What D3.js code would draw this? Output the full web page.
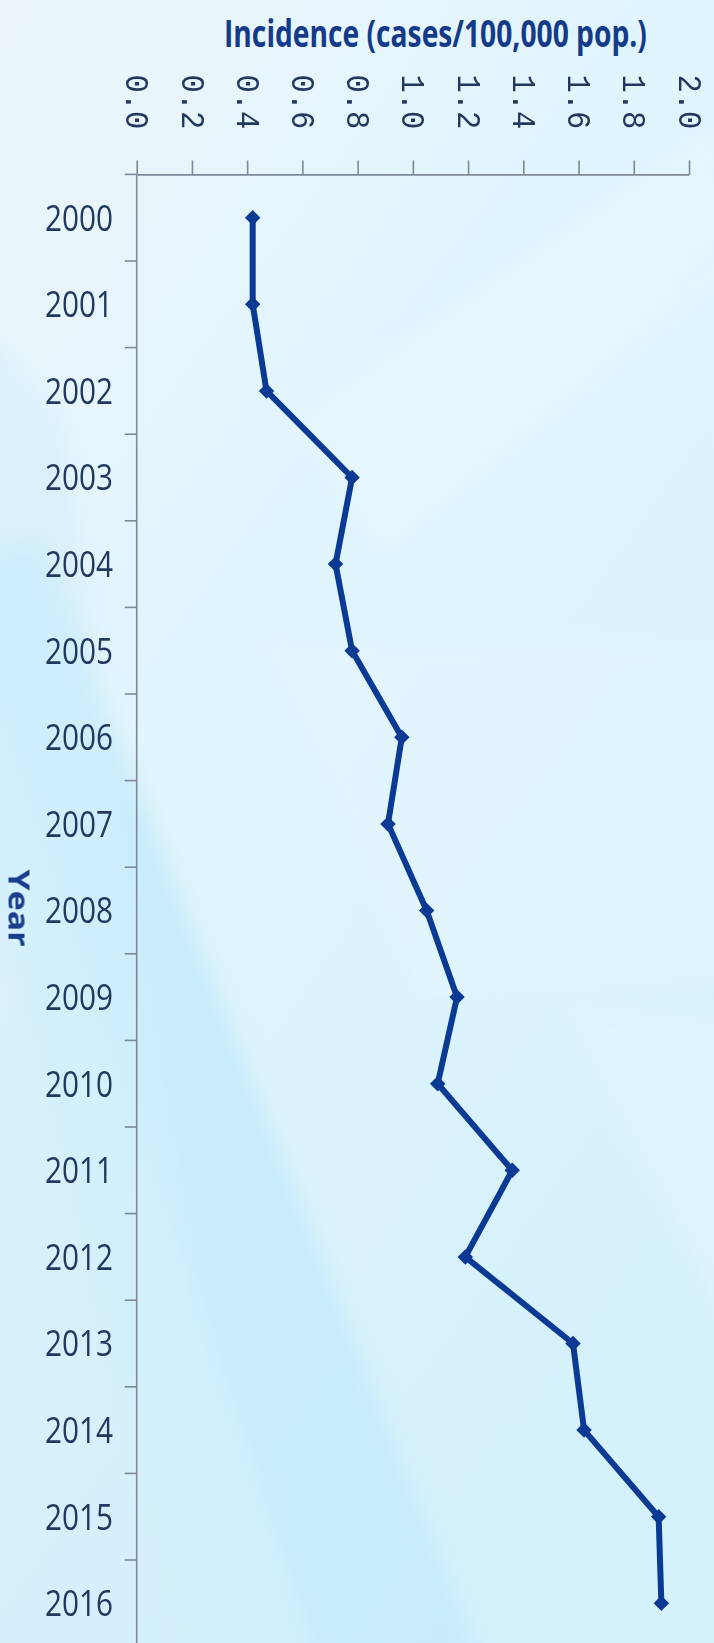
<!DOCTYPE html>
<html>
<head>
<meta charset="utf-8">
<script src="https://cdn.jsdelivr.net/npm/d3@7/dist/d3.min.js"></script>
<style>
  html, body { margin: 0; padding: 0; background: #dcf3fc; }
  svg { display: block; }
</style>
</head>
<body>
<svg id="chart" width="714" height="1643"></svg>
<script>
// Yearly incidence, cases per 100,000 population
const years = ["2000","2001","2002","2003","2004","2005","2006","2007","2008",
               "2009","2010","2011","2012","2013","2014","2015","2016"];
const incidence = [0.42, 0.42, 0.47, 0.78, 0.72, 0.78, 0.96, 0.91, 1.05,
                   1.16, 1.09, 1.36, 1.19, 1.58, 1.62, 1.89, 1.90];
const valueTicks = [0, 0.2, 0.4, 0.6, 0.8, 1.0, 1.2, 1.4, 1.6, 1.8, 2.0];
const titleText = "Incidence (cases/100,000 pop.)";
const yearTitle = "Year";

const W = 714, H = 1643;
const svg = d3.select("#chart");

// ---- background: pale blue with soft diagonal streaks ----
const defs = svg.append("defs");
const bg = defs.append("linearGradient").attr("id", "bgGrad")
  .attr("x1", 0).attr("y1", 0).attr("x2", 0.6).attr("y2", 1);
bg.append("stop").attr("offset", 0).attr("stop-color", "#ecf6fa");
bg.append("stop").attr("offset", 0.35).attr("stop-color", "#e2f5fc");
bg.append("stop").attr("offset", 1).attr("stop-color", "#d5f1fc");
defs.append("filter").attr("id", "soft").attr("x", "-20%").attr("y", "-20%")
  .attr("width", "140%").attr("height", "140%")
  .append("feGaussianBlur").attr("stdDeviation", 10);

svg.append("rect").attr("width", W).attr("height", H).attr("fill", "url(#bgGrad)");

const streaks = svg.append("g").attr("filter", "url(#soft)");
// deeper blue band running toward the bottom
streaks.append("polygon")
  .attr("points", "-60,560 40,540 495,1700 330,1700")
  .attr("fill", "#c3eafa").attr("opacity", 0.8);
streaks.append("polygon")
  .attr("points", "-60,640 -10,560 330,1700 200,1700")
  .attr("fill", "#cdeefb").attr("opacity", 0.6);
// left strip, slightly bluer in the lower half
streaks.append("polygon")
  .attr("points", "-40,300 60,420 260,1700 -40,1700")
  .attr("fill", "#d2effb").attr("opacity", 0.6);
// lighter streaks across the right side
streaks.append("polygon")
  .attr("points", "300,420 714,120 760,260 380,560")
  .attr("fill", "#eaf8fd").attr("opacity", 0.55);
streaks.append("polygon")
  .attr("points", "260,640 760,640 760,980 420,1000")
  .attr("fill", "#e6f7fd").attr("opacity", 0.45);
streaks.append("polygon")
  .attr("points", "560,1000 760,1020 760,1400")
  .attr("fill", "#e4f7fd").attr("opacity", 0.5);

// ---- scales ----
const axisY = 174.4;
const axisX = 136.7;
const band = 86.6;

const x = d3.scaleLinear().domain([0, 2]).range([axisX, 689]);
const y = d3.scaleBand().domain(years)
  .range([axisY, axisY + band * years.length]).padding(0);

const axisColor = "#7e8998";
const labelColor = "#22385f";

// ---- value axis along the top ----
const gx = svg.append("g").attr("transform", `translate(0,${axisY})`)
  .call(d3.axisTop(x).tickValues(valueTicks).tickSize(14).tickSizeOuter(0)
          .tickFormat(d3.format(".1f")));
gx.select(".domain").attr("stroke", axisColor).attr("stroke-width", 1.6);
gx.selectAll(".tick line").attr("stroke", axisColor).attr("stroke-width", 1.6);
gx.selectAll(".tick text")
  .attr("transform", "rotate(90)")
  .attr("x", -100).attr("y", 0).attr("dy", "0.33em")
  .attr("text-anchor", "start")
  .attr("textLength", 55).attr("lengthAdjust", "spacingAndGlyphs")
  .style("font-family", "'Liberation Mono', 'DejaVu Sans Mono', monospace")
  .style("font-size", "33px")
  .attr("fill", labelColor);

// ---- category axis on the left ----
const gy = svg.append("g").attr("transform", `translate(${axisX},0)`)
  .call(d3.axisLeft(y).tickSize(0).tickPadding(23.7));
gy.select(".domain").remove();
gy.selectAll(".tick text")
  .attr("dy", "0.36em")
  .attr("textLength", 68).attr("lengthAdjust", "spacingAndGlyphs")
  .style("font-family", "'Open Sans', 'Noto Sans', sans-serif")
  .style("font-size", "36px")
  .attr("fill", labelColor);

// vertical axis line and band-boundary ticks
svg.append("line")
  .attr("x1", axisX).attr("x2", axisX)
  .attr("y1", axisY).attr("y2", H)
  .attr("stroke", axisColor).attr("stroke-width", 1.6);
svg.append("g").selectAll("line")
  .data(years)
  .join("line")
  .attr("x1", axisX - 12).attr("x2", axisX)
  .attr("y1", d => y(d)).attr("y2", d => y(d))
  .attr("stroke", axisColor).attr("stroke-width", 1.6);

// ---- titles (narrowed horizontally with a scale transform) ----
const title = svg.append("text")
  .style("font-family", "'Open Sans', 'Noto Sans', sans-serif")
  .style("font-weight", 700)
  .style("font-size", "37px")
  .attr("fill", "#143a8a")
  .text(titleText);
const titleW = title.node().getComputedTextLength();
title.attr("transform", `translate(224,47) scale(${423 / titleW},1)`);

const yt = svg.append("text")
  .attr("text-anchor", "middle")
  .attr("dy", "0.36em")
  .style("font-family", "'Open Sans', 'Noto Sans', sans-serif")
  .style("font-weight", 700)
  .style("font-size", "29px")
  .attr("fill", "#173d8c")
  .text(yearTitle);
const ytW = yt.node().getComputedTextLength();
yt.attr("transform", `translate(18.5,908) rotate(90) scale(${77 / ytW},1)`);

// ---- series line with diamond markers ----
const points = years.map((yr, i) => ({ year: yr, value: incidence[i] }));
const cy = d => y(d.year) + y.bandwidth() / 2;

svg.append("path")
  .datum(points)
  .attr("fill", "none")
  .attr("stroke", "#0b3a95")
  .attr("stroke-width", 6)
  .attr("stroke-linejoin", "round")
  .attr("d", d3.line().x(d => x(d.value)).y(cy));

svg.append("g").selectAll("path")
  .data(points)
  .join("path")
  .attr("d", d3.symbol(d3.symbolSquare, 120))
  .attr("transform", d => `translate(${x(d.value)},${cy(d)}) rotate(45)`)
  .attr("fill", "#0b3a95");
</script>
</body>
</html>
